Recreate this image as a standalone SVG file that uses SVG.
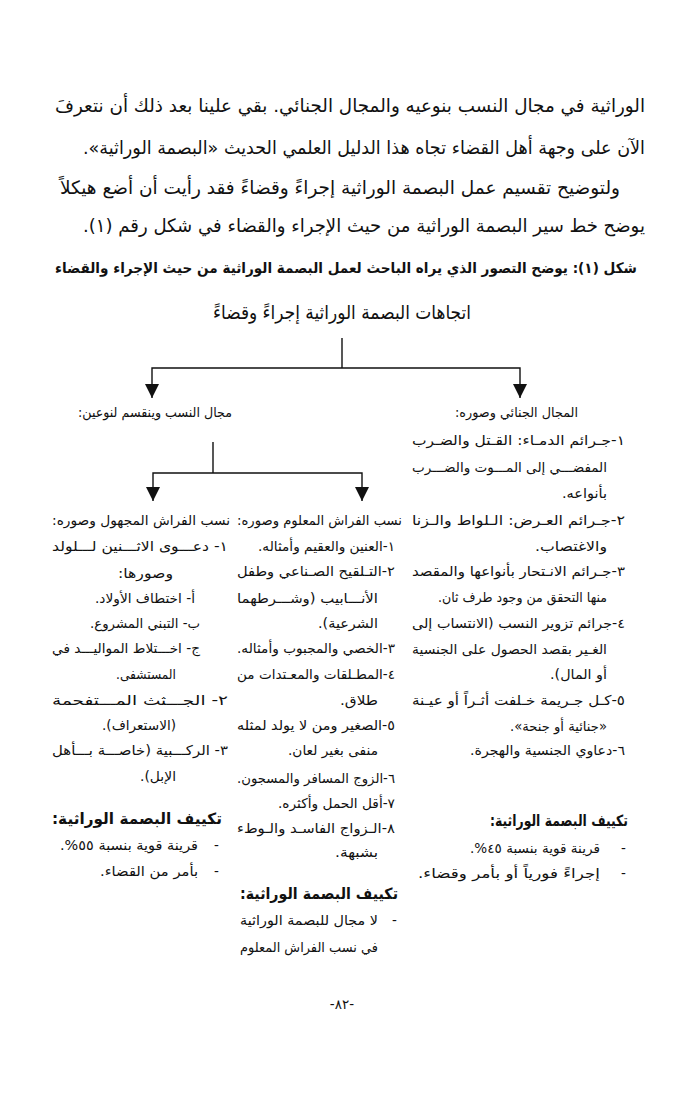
<svg xmlns="http://www.w3.org/2000/svg" width="684" height="1107" viewBox="0 0 684 1107">
<style>
text{font-family:"DejaVu Sans",sans-serif;direction:ltr;text-anchor:start;fill:#111}
.p{font-size:18.5px}
.cap{font-size:14.5px;font-weight:bold}
.ttl{font-size:19px}
.c{font-size:13.5px}
.h{font-size:15.5px;font-weight:bold}
.m{text-anchor:middle}
.con{fill:none;stroke:#111;stroke-width:1.4}
</style>
<defs>
<marker id="ah" markerUnits="userSpaceOnUse" markerWidth="14" markerHeight="14" viewBox="0 0 10 10" refX="10" refY="5" orient="auto">
<path d="M0,0 L10,5 L0,10 z" fill="#111"/>
</marker>
</defs>
<rect width="684" height="1107" fill="#fff"/>

<g id="paragraph">
<text class="p" x="55" y="112" textLength="590" lengthAdjust="spacingAndGlyphs">&#x200F;الوراثية في مجال النسب بنوعيه والمجال الجنائي. بقي علينا بعد ذلك أن نتعرفَ&#x200F;</text>
<text class="p" x="83" y="154" textLength="562" lengthAdjust="spacingAndGlyphs">&#x200F;الآن على وجهة أهل القضاء تجاه هذا الدليل العلمي الحديث «البصمة الوراثية».&#x200F;</text>
<text class="p" x="60" y="194" textLength="560" lengthAdjust="spacingAndGlyphs">&#x200F;ولتوضيح تقسيم عمل البصمة الوراثية إجراءً وقضاءً فقد رأيت أن أضع هيكلاً&#x200F;</text>
<text class="p" x="83" y="232" textLength="562" lengthAdjust="spacingAndGlyphs">&#x200F;يوضح خط سير البصمة الوراثية من حيث الإجراء والقضاء في شكل رقم (١).&#x200F;</text>
<text class="cap" x="55" y="273" textLength="582" lengthAdjust="spacingAndGlyphs">&#x200F;شكل (١): يوضح التصور الذي يراه الباحث لعمل البصمة الوراثية من حيث الإجراء والقضاء&#x200F;</text>
</g>

<g id="node-title">
<text class="ttl" x="213" y="319" textLength="258" lengthAdjust="spacingAndGlyphs">&#x200F;اتجاهات البصمة الوراثية إجراءً وقضاءً&#x200F;</text>
</g>

<g id="connectors">
<path class="con" d="M342,338 V368"/>
<path class="con" d="M342,368 H152 V398" marker-end="url(#ah)"/>
<path class="con" d="M342,368 H520 V398" marker-end="url(#ah)"/>
<path class="con" d="M213,442 V473"/>
<path class="con" d="M213,473 H153 V501" marker-end="url(#ah)"/>
<path class="con" d="M213,473 H362 V501" marker-end="url(#ah)"/>
</g>

<g id="node-criminal">
<text class="c" x="455" y="417" textLength="123" lengthAdjust="spacingAndGlyphs">&#x200F;المجال الجنائي وصوره:&#x200F;</text>
<text class="c" x="412" y="445" textLength="213" lengthAdjust="spacingAndGlyphs">&#x200F;١-جـرائم الدمـاء: القـتل والضـرب&#x200F;</text>
<text class="c" x="412" y="472" textLength="195" lengthAdjust="spacingAndGlyphs">&#x200F;المفضـــي إلى المـــوت والضـــرب&#x200F;</text>
<text class="c" x="562" y="498" textLength="45" lengthAdjust="spacingAndGlyphs">&#x200F;بأنواعه.&#x200F;</text>
<text class="c" x="412" y="525" textLength="213" lengthAdjust="spacingAndGlyphs">&#x200F;٢-جـرائم العـرض: الـلواط والـزنا&#x200F;</text>
<text class="c" x="535" y="551" textLength="72" lengthAdjust="spacingAndGlyphs">&#x200F;والاغتصاب.&#x200F;</text>
<text class="c" x="412" y="576" textLength="213" lengthAdjust="spacingAndGlyphs">&#x200F;٣-جـرائم الانـتحار بأنواعها والمقصد&#x200F;</text>
<text class="c" x="438" y="602" textLength="169" lengthAdjust="spacingAndGlyphs">&#x200F;منها التحقق من وجود طرف ثان.&#x200F;</text>
<text class="c" x="412" y="628" textLength="213" lengthAdjust="spacingAndGlyphs">&#x200F;٤-جرائم تزوير النسب (الانتساب إلى&#x200F;</text>
<text class="c" x="412" y="654" textLength="195" lengthAdjust="spacingAndGlyphs">&#x200F;الغـير بقصد الحصول على الجنسية&#x200F;</text>
<text class="c" x="550" y="679" textLength="57" lengthAdjust="spacingAndGlyphs">&#x200F;أو المال).&#x200F;</text>
<text class="c" x="412" y="705" textLength="213" lengthAdjust="spacingAndGlyphs">&#x200F;٥-كـل جـريمة خـلفت أثـراً أو عيـنة&#x200F;</text>
<text class="c" x="510" y="731" textLength="97" lengthAdjust="spacingAndGlyphs">&#x200F;«جنائية أو جنحة».&#x200F;</text>
<text class="c" x="470" y="755" textLength="155" lengthAdjust="spacingAndGlyphs">&#x200F;٦-دعاوي الجنسية والهجرة.&#x200F;</text>
<text class="h" x="490" y="826" textLength="138" lengthAdjust="spacingAndGlyphs">&#x200F;تكييف البصمة الوراثية:&#x200F;</text>
<text class="c" x="621" y="853">-</text>
<text class="c" x="470" y="853" textLength="130" lengthAdjust="spacingAndGlyphs">&#x200F;قرينة قوية بنسبة ٤٥%.&#x200F;</text>
<text class="c" x="621" y="878">-</text>
<text class="c" x="418" y="878" textLength="182" lengthAdjust="spacingAndGlyphs">&#x200F;إجراءً فورياً أو بأمر وقضاء.&#x200F;</text>
</g>

<g id="node-lineage">
<text class="c" x="78" y="417" textLength="154" lengthAdjust="spacingAndGlyphs">&#x200F;مجال النسب وينقسم لنوعين:&#x200F;</text>
</g>

<g id="node-known">
<text class="c" x="237" y="525" textLength="165" lengthAdjust="spacingAndGlyphs">&#x200F;نسب الفراش المعلوم وصوره:&#x200F;</text>
<text class="c" x="258" y="551" textLength="137" lengthAdjust="spacingAndGlyphs">&#x200F;١-العنين والعقيم وأمثاله.&#x200F;</text>
<text class="c" x="237" y="576" textLength="158" lengthAdjust="spacingAndGlyphs">&#x200F;٢-التـلقيح الصـناعي وطفل&#x200F;</text>
<text class="c" x="237" y="603" textLength="141" lengthAdjust="spacingAndGlyphs">&#x200F;الأنـــابيب (وشـــرطهما&#x200F;</text>
<text class="c" x="318" y="628" textLength="60" lengthAdjust="spacingAndGlyphs">&#x200F;الشرعية).&#x200F;</text>
<text class="c" x="237" y="653" textLength="158" lengthAdjust="spacingAndGlyphs">&#x200F;٣-الخصي والمجبوب وأمثاله.&#x200F;</text>
<text class="c" x="237" y="679" textLength="158" lengthAdjust="spacingAndGlyphs">&#x200F;٤-المطـلقات والمعـتدات من&#x200F;</text>
<text class="c" x="340" y="705" textLength="38" lengthAdjust="spacingAndGlyphs">&#x200F;طلاق.&#x200F;</text>
<text class="c" x="237" y="730" textLength="158" lengthAdjust="spacingAndGlyphs">&#x200F;٥-الصغير ومن لا يولد لمثله&#x200F;</text>
<text class="c" x="288" y="755" textLength="90" lengthAdjust="spacingAndGlyphs">&#x200F;منفى بغير لعان.&#x200F;</text>
<text class="c" x="237" y="783" textLength="158" lengthAdjust="spacingAndGlyphs">&#x200F;٦-الزوج المسافر والمسجون.&#x200F;</text>
<text class="c" x="278" y="808" textLength="117" lengthAdjust="spacingAndGlyphs">&#x200F;٧-أقل الحمل وأكثره.&#x200F;</text>
<text class="c" x="237" y="833" textLength="158" lengthAdjust="spacingAndGlyphs">&#x200F;٨-الـزواج الفاسـد والـوطء&#x200F;</text>
<text class="c" x="335" y="857" textLength="43" lengthAdjust="spacingAndGlyphs">&#x200F;بشبهة.&#x200F;</text>
<text class="h" x="240" y="899" textLength="158" lengthAdjust="spacingAndGlyphs">&#x200F;تكييف البصمة الوراثية:&#x200F;</text>
<text class="c" x="392" y="925">-</text>
<text class="c" x="240" y="925" textLength="138" lengthAdjust="spacingAndGlyphs">&#x200F;لا مجال للبصمة الوراثية&#x200F;</text>
<text class="c" x="240" y="952" textLength="138" lengthAdjust="spacingAndGlyphs">&#x200F;في نسب الفراش المعلوم&#x200F;</text>
</g>

<g id="node-unknown">
<text class="c" x="52" y="525" textLength="178" lengthAdjust="spacingAndGlyphs">&#x200F;نسب الفراش المجهول وصوره:&#x200F;</text>
<text class="c" x="52" y="551" textLength="176" lengthAdjust="spacingAndGlyphs">&#x200F;١- دعـــوى الاثـــنين لـــلولد&#x200F;</text>
<text class="c" x="118" y="578" textLength="55" lengthAdjust="spacingAndGlyphs">&#x200F;وصورها:&#x200F;</text>
<text class="c" x="95" y="603" textLength="100" lengthAdjust="spacingAndGlyphs">&#x200F;أ- اختطاف الأولاد.&#x200F;</text>
<text class="c" x="90" y="628" textLength="110" lengthAdjust="spacingAndGlyphs">&#x200F;ب- التبني المشروع.&#x200F;</text>
<text class="c" x="52" y="653" textLength="148" lengthAdjust="spacingAndGlyphs">&#x200F;ج- اخـــتلاط المواليـــد في&#x200F;</text>
<text class="c" x="116" y="679" textLength="60" lengthAdjust="spacingAndGlyphs">&#x200F;المستشفى.&#x200F;</text>
<text class="c" x="52" y="705" textLength="176" lengthAdjust="spacingAndGlyphs">&#x200F;٢- الجـــثث المـــتفحمة&#x200F;</text>
<text class="c" x="102" y="730" textLength="74" lengthAdjust="spacingAndGlyphs">&#x200F;(الاستعراف).&#x200F;</text>
<text class="c" x="52" y="755" textLength="176" lengthAdjust="spacingAndGlyphs">&#x200F;٣- الركـــبية (خاصـــة بـــأهل&#x200F;</text>
<text class="c" x="140" y="781" textLength="36" lengthAdjust="spacingAndGlyphs">&#x200F;الإبل).&#x200F;</text>
<text class="h" x="52" y="824" textLength="170" lengthAdjust="spacingAndGlyphs">&#x200F;تكييف البصمة الوراثية:&#x200F;</text>
<text class="c" x="214" y="850">-</text>
<text class="c" x="60" y="850" textLength="138" lengthAdjust="spacingAndGlyphs">&#x200F;قرينة قوية بنسبة ٥٥%.&#x200F;</text>
<text class="c" x="214" y="876">-</text>
<text class="c" x="100" y="876" textLength="98" lengthAdjust="spacingAndGlyphs">&#x200F;بأمر من القضاء.&#x200F;</text>
</g>

<g id="page-number">
<text class="c m" x="342" y="1009">&#x200F;-٨٢-&#x200F;</text>
</g>
</svg>
